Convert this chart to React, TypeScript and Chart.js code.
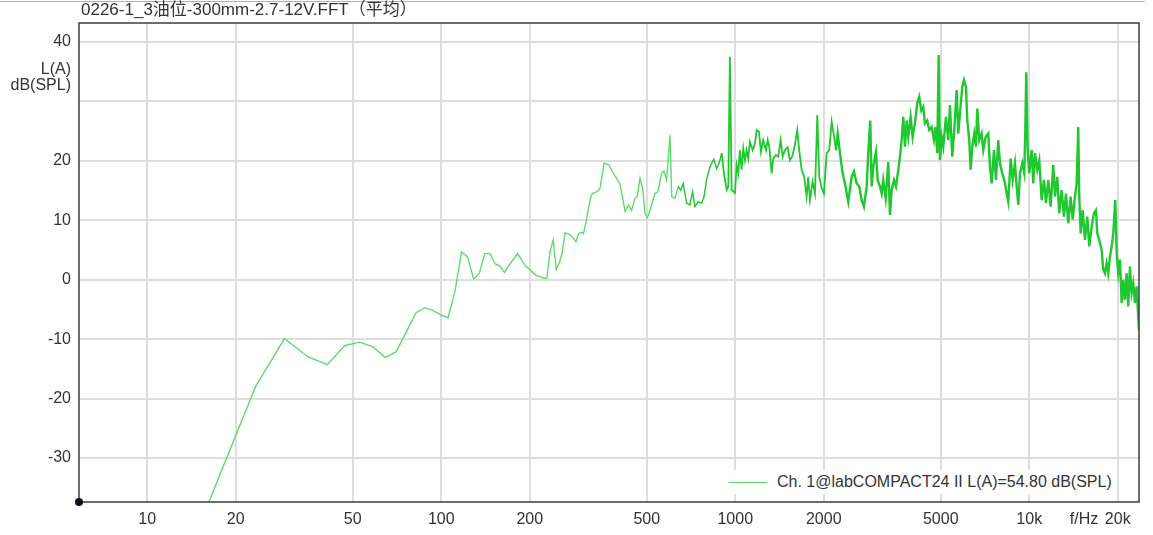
import React, { useEffect, useRef } from "react";
import { Chart, registerables } from "chart.js";

Chart.register(...registerables);

const TITLE = "0226-1_3油位-300mm-2.7-12V.FFT（平均）";
const LEGEND_LABEL = "Ch. 1@labCOMPACT24 II L(A)=54.80 dB(SPL)";
const Y_UNIT = ["L(A)", "dB(SPL)"];
const X_TICKS = [10, 20, 50, 100, 200, 500, 1000, 2000, 5000, 10000, 15350, 20000];
const X_TICK_LABELS = ["10", "20", "50", "100", "200", "500", "1000", "2000", "5000", "10k", "f/Hz", "20k"];
const X_UNIT_TICK = 15350;
const Y_UNIT_TICK = 30;
const X_MIN = 5.86;
const X_MAX = 23620;
const Y_MIN = -37.4;
const Y_MAX = 43.2;

const LINE_COLOR = "rgb(30,200,46)";
const LINE_COLOR_LIGHT = "rgb(96,218,108)";
const GRID_COLOR = "#dedede";
const TEXT_COLOR = "#333333";
const FONT_FAMILY = "'Liberation Sans', Arial, 'Noto Sans CJK SC', sans-serif";

// Frequency (Hz) of each point of the averaged FFT
const freqs = [
  5.9, 11.7, 17.6, 23.4, 29.3, 35.2, 41.0, 46.9, 52.7, 58.6,
  64.5, 70.3, 76.2, 82.0, 87.9, 93.8, 99.6, 105.5, 111.3, 117.2,
  123.0, 128.9, 134.8, 140.6, 146.5, 152.3, 158.2, 164.1, 169.9, 175.8,
  181.6, 187.5, 193.4, 199.2, 205.1, 210.9, 216.8, 222.7, 228.5, 234.4,
  240.2, 246.1, 252.0, 257.8, 263.7, 269.5, 275.4, 281.3, 287.1, 293.0,
  298.8, 304.7, 310.5, 316.4, 322.3,
  326, 339, 347, 358, 372, 385, 405, 422, 433, 444,
  456, 464, 474, 484, 493, 502, 513, 533, 545, 562,
  572, 584, 600, 608, 624, 640, 652, 665, 683, 701,
  716, 729, 748, 769, 783, 799, 820, 846, 864, 882,
  899, 915, 935, 947, 959, 972, 998, 1011, 1024, 1037,
  1051, 1065, 1079, 1093, 1107, 1122, 1146, 1167, 1182, 1204,
  1223, 1245, 1272, 1289, 1305, 1330, 1346, 1375, 1400, 1427,
  1449, 1476, 1507, 1534, 1562, 1596, 1625, 1650, 1682, 1716,
  1749, 1771, 1795, 1833, 1867, 1901, 1931, 1967, 2003, 2046,
  2088, 2128, 2166, 2200, 2230,
  2271, 2319, 2361, 2423, 2488, 2534, 2588, 2641, 2691, 2740,
  2799, 2834, 2879, 2910, 2947, 3010, 3050, 3106, 3148, 3187,
  3248, 3315, 3359, 3404, 3466, 3521, 3585, 3633, 3681, 3728,
  3778, 3828, 3877, 3950, 4012, 4085, 4160, 4225, 4292, 4360,
  4418, 4498, 4570, 4656, 4741, 4804, 4865, 4919, 4969, 5036,
  5099, 5208, 5303, 5374, 5471, 5558, 5663, 5735, 5812, 5917,
  5997, 6092, 6154, 6251, 6320, 6400, 6500, 6588, 6655, 6760,
  6888, 6975, 7107, 7254, 7351, 7450, 7585, 7705, 7845, 7950,
  8094, 8222, 8378, 8484, 8645, 8782, 8941, 9061, 9176, 9299,
  9467, 9616, 9693, 9769, 9877, 10000, 10190, 10318, 10457, 10647,
  10815, 11020, 11220, 11398, 11605, 11825, 12069, 12230, 12452, 12649,
  12889, 13123, 13331, 13573, 13831, 14048, 14303, 14496, 14678, 14793,
  14957, 15193, 15469, 15750, 15998, 16302, 16598, 16860, 17033, 17301,
  17630, 17853, 18092, 18334, 18565, 18814, 19067, 19307, 19613, 19828,
  20077, 20346, 20618, 20877, 21159, 21442, 21712, 22003, 22298, 22580,
  22883, 23189, 23371, 23611,
];

// Level in dB(SPL), A-weighted
const levels = [
  -80, -55, -33.0, -17.9, -9.9, -13.0, -14.3, -11.1, -10.5, -11.3,
  -13.1, -12.1, -8.7, -5.6, -4.7, -5.2, -5.9, -6.4, -2.0, 4.7,
  3.8, 0.1, 1.1, 4.4, 4.4, 2.7, 2.3, 1.2, 2.4, 3.4,
  4.4, 3.4, 2.3, 1.8, 1.2, 0.7, 0.5, 0.3, 0.2, 4.7,
  6.7, 1.8, 2.8, 4.5, 7.9, 7.7, 7.5, 7.0, 6.4, 7.7,
  8.0, 7.8, 9.6, 11.9, 13.8,
  14.5, 14.8, 15.4, 19.6, 19.3, 17.9, 16.2, 11.5, 12.6, 11.7,
  13.7, 14.0, 17.1, 15.4, 11.2, 10.4, 11.7, 14.5, 14.8, 17.9,
  18.3, 16.8, 24.3, 14.0, 13.7, 15.7, 15.1, 16.2, 12.9, 12.6,
  14.8, 12.3, 13.1, 12.9, 14.0, 16.8, 19.0, 20.3, 18.7, 19.7,
  21.3, 17.9, 15.1, 15.7, 37.5, 15.1, 14.6, 19.3, 17.9, 21.8,
  18.5, 22.1, 20.1, 21.8, 20.4, 23.2, 21.8, 22.9, 25.2, 24.9,
  21.5, 23.5, 21.8, 23.5, 22.4, 17.9, 20.4, 21.0, 20.7, 23.5,
  20.7, 21.8, 22.3, 20.1, 20.7, 22.7, 25.2, 21.8, 18.5, 17.3,
  14.0, 17.3, 13.4, 16.5, 14.5, 27.7, 17.3, 15.4, 14.5, 21.3,
  21.8, 26.6, 24.3, 21.8, 24.6,
  21.3, 17.9, 16.2, 13.1, 17.3, 18.2, 16.2, 15.7, 13.4, 12.3,
  15.7, 21.3, 26.8, 15.7, 19.0, 21.5, 16.8, 15.7, 14.5, 16.8,
  13.7, 19.8, 10.9, 15.1, 16.8, 15.7, 18.5, 20.7, 23.5, 27.4,
  22.4, 26.8, 24.0, 27.4, 24.0, 26.3, 29.7, 30.8, 28.5, 29.1,
  26.3, 26.8, 25.2, 25.7, 23.5, 25.7, 21.3, 37.8, 20.1, 24.0,
  22.4, 27.4, 23.5, 29.4, 20.7, 25.2, 31.9, 24.6, 28.0, 32.4,
  33.6, 32.4, 26.8, 23.5, 18.5, 22.4, 24.6, 22.4, 28.8, 23.5,
  24.6, 21.8, 24.0, 24.6, 19.0, 16.2, 21.8, 16.8, 23.5, 19.6,
  17.9, 16.8, 14.5, 13.1, 20.4, 16.8, 19.6, 15.7, 12.6, 17.9,
  19.6, 17.9, 24.9, 34.9, 21.8, 17.9, 21.8, 16.2, 21.3, 18.5,
  20.1, 13.4, 16.8, 12.9, 16.8, 12.3, 19.3, 14.0, 17.3, 11.2,
  15.1, 10.6, 14.5, 9.5, 14.0, 10.1, 14.0, 16.2, 25.7, 14.0,
  7.8, 11.7, 6.7, 10.6, 5.6, 8.9, 11.2, 11.7, 7.8, 6.7,
  5.0, 1.7, 1.1, 2.8, 1.1, 3.9, 5.6, 7.8, 13.4, 4.5,
  1.1, 3.4, -3.9, 0, -3.4, 1.1, -4.5, 2.2, -2.2, -0.6,
  -3.9, -1.1, -4.5, -8.4,
];

const framePlugin = {
  id: "frameAndOrigin",
  afterDraw(chart: any) {
    const { ctx, chartArea } = chart;
    const { left, top, right, bottom } = chartArea;
    ctx.save();
    ctx.strokeStyle = "#3c3c3c";
    ctx.lineWidth = 1.5;
    ctx.strokeRect(left, top, right - left, bottom - top);
    ctx.fillStyle = "#0b0b20";
    ctx.beginPath();
    ctx.arc(left, bottom, 4, 0, Math.PI * 2);
    ctx.fill();
    ctx.restore();
  },
};

export default function App() {
  const canvasRef = useRef<HTMLCanvasElement>(null);

  useEffect(() => {
    document.body.style.margin = "0";
    const canvas = canvasRef.current;
    if (!canvas) return;
    const font = { family: FONT_FAMILY, size: 16 };
    const chart = new Chart(canvas, {
      type: "line",
      data: {
        datasets: [
          {
            label: LEGEND_LABEL,
            data: freqs.map((f, i) => ({ x: f, y: levels[i] })),
            borderColor: LINE_COLOR,
            borderWidth: 1.4,
            pointRadius: 0,
            tension: 0,
            clip: 0,
            segment: {
              borderWidth: (ctx: any) => {
                const f = ctx.p1.parsed.x;
                return f > 2200 ? 2.4 : f > 900 ? 1.8 : 1.4;
              },
              borderColor: (ctx: any) => (ctx.p1.parsed.x > 650 ? LINE_COLOR : LINE_COLOR_LIGHT),
            },
          } as any,
        ],
      },
      options: {
        responsive: false,
        animation: false,
        events: [],
        layout: { padding: { left: 0, top: 23, right: 14, bottom: 0 } },
        plugins: {
          legend: { display: false },
          title: { display: false },
          tooltip: { enabled: false },
        },
        scales: {
          x: {
            type: "logarithmic",
            min: X_MIN,
            max: X_MAX,
            afterBuildTicks: (s: any) => {
              s.ticks = X_TICKS.map((v) => ({ value: v }));
            },
            afterFit: (s: any) => {
              s.height = 33;
            },
            ticks: {
              autoSkip: false,
              maxRotation: 0,
              padding: 8,
              color: TEXT_COLOR,
              font,
              callback: (v: any) => {
                const i = X_TICKS.indexOf(Number(v));
                return i >= 0 ? X_TICK_LABELS[i] : "";
              },
            },
            grid: {
              drawTicks: false,
              lineWidth: 2,
              color: (ctx: any) =>
                ctx.tick && ctx.tick.value === X_UNIT_TICK ? "rgba(0,0,0,0)" : GRID_COLOR,
            },
            border: { display: false },
          },
          y: {
            type: "linear",
            min: Y_MIN,
            max: Y_MAX,
            afterFit: (s: any) => {
              s.width = 79;
            },
            ticks: {
              stepSize: 10,
              includeBounds: false,
              padding: 8,
              color: TEXT_COLOR,
              font,
              callback: (v: any) => (Number(v) === Y_UNIT_TICK ? "" : String(v)),
            },
            grid: { drawTicks: false, lineWidth: 2, color: GRID_COLOR },
            border: { display: false },
          },
        },
      } as any,
      plugins: [framePlugin],
    });
    return () => chart.destroy();
  }, []);

  const textStyle: React.CSSProperties = {
    position: "absolute",
    fontFamily: FONT_FAMILY,
    fontSize: 16,
    color: TEXT_COLOR,
    whiteSpace: "nowrap",
  };

  return (
    <div style={{ position: "relative", width: 1153, height: 535, background: "#fff", overflow: "hidden" }}>
      <canvas ref={canvasRef} width={1153} height={535} style={{ display: "block" }} />
      <div style={{ position: "absolute", left: 0, top: 1, width: 1145, height: 1, background: "#b0b0b0" }} />
      <div style={{ ...textStyle, left: 81, top: 1, fontSize: 17, lineHeight: "18px" }}>{TITLE}</div>
      <div style={{ ...textStyle, left: 0, width: 71, top: 61, textAlign: "right", lineHeight: "16px" }}>
        <div>{Y_UNIT[0]}</div>
        <div>{Y_UNIT[1]}</div>
      </div>
      <div
        style={{
          position: "absolute",
          left: 722,
          top: 470,
          width: 391,
          height: 24,
          background: "#fff",
          display: "flex",
          alignItems: "center",
        }}
      >
        <div style={{ marginLeft: 7, width: 38, height: 1, background: LINE_COLOR_LIGHT }} />
        <div style={{ marginLeft: 10, fontFamily: FONT_FAMILY, fontSize: 16, color: TEXT_COLOR, whiteSpace: "nowrap" }}>
          {LEGEND_LABEL}
        </div>
      </div>
    </div>
  );
}
